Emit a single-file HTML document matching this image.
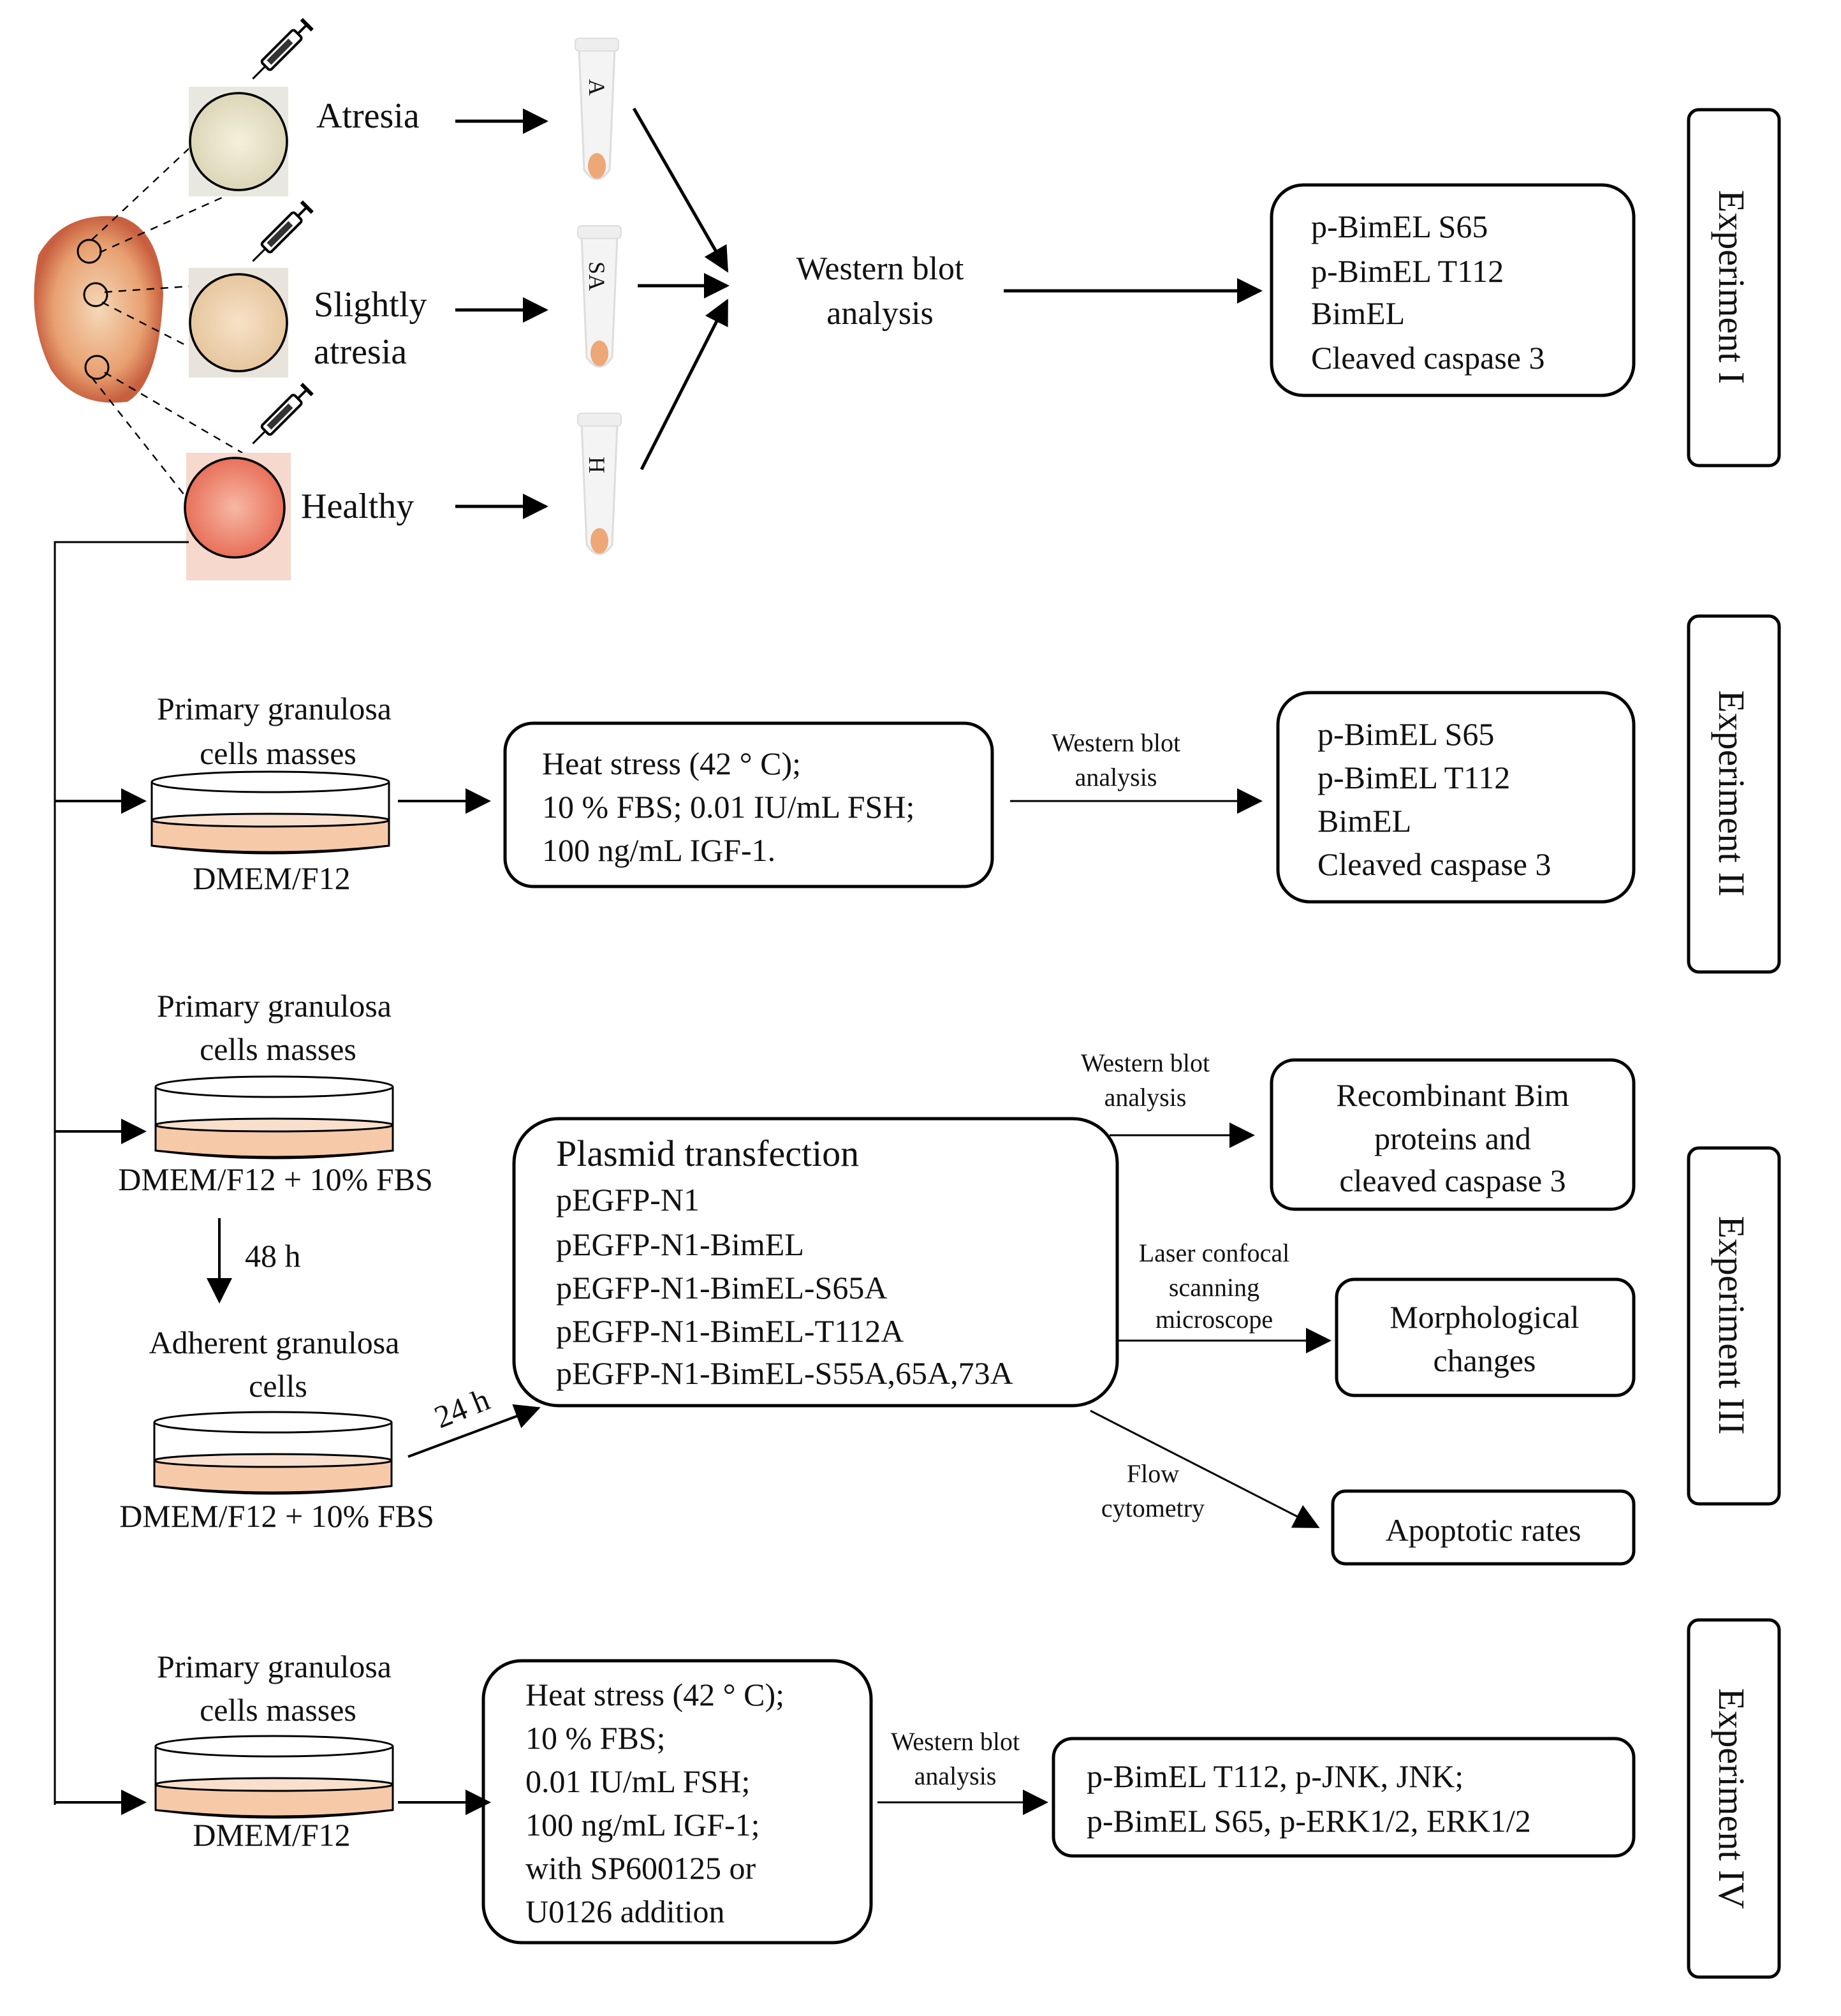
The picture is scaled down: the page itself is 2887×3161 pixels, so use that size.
<!DOCTYPE html>
<html><head><meta charset="utf-8"><style>
html,body{margin:0;padding:0;background:#fff;}
svg{display:block;}
text{font-family:"Liberation Serif",serif;fill:#111;}
</style></head><body>
<svg width="2887" height="3161" viewBox="0 0 1443.5 1580.5" xmlns="http://www.w3.org/2000/svg">
<defs>
<marker id="ah" viewBox="0 0 10 10" refX="9" refY="5" markerWidth="9" markerHeight="9" markerUnits="userSpaceOnUse" orient="auto"><path d="M0,0 L10,5 L0,10 z" fill="#000"/></marker>
<marker id="ahb" viewBox="0 0 10 10" refX="9" refY="5" markerWidth="20" markerHeight="20" markerUnits="userSpaceOnUse" orient="auto"><path d="M0,0 L10,5 L0,10 z" fill="#000"/></marker>
<radialGradient id="g1"><stop offset="0" stop-color="#f4f0dc"/><stop offset="1" stop-color="#dcd6b8"/></radialGradient>
<radialGradient id="g2"><stop offset="0" stop-color="#f7e2c8"/><stop offset="1" stop-color="#e6c69e"/></radialGradient>
<radialGradient id="g3"><stop offset="0" stop-color="#f7b8a4"/><stop offset="1" stop-color="#e8705a"/></radialGradient>
<radialGradient id="ov"><stop offset="0" stop-color="#f5d8b8"/><stop offset="0.7" stop-color="#e8a070"/><stop offset="1" stop-color="#c86040"/></radialGradient>
<g id="syr"><rect x="-5" y="-22" width="10" height="36" rx="2" fill="#fff" stroke="#000" stroke-width="2"/><rect x="-2.5" y="-14" width="5" height="24" fill="#333"/><line x1="0" y1="-22" x2="0" y2="-32" stroke="#000" stroke-width="2"/><line x1="-6" y1="-32" x2="6" y2="-32" stroke="#000" stroke-width="3"/><line x1="0" y1="14" x2="0" y2="28" stroke="#000" stroke-width="1.5"/></g>
<g id="tube"><path d="M-14,0 L14,0 L10,95 Q0,110 -10,95 Z" fill="#f4f4f4" stroke="#ddd" stroke-width="1.5"/><rect x="-17" y="-8" width="34" height="10" rx="3" fill="#eee" stroke="#ddd"/><ellipse cx="0" cy="92" rx="7" ry="10" fill="#eea777"/></g>
<g id="dish"><ellipse cx="0" cy="0" rx="93" ry="8" fill="#fff" stroke="#000" stroke-width="1.5"/><path d="M-93,0 V50 Q0,62 93,50 V0" fill="none" stroke="#000" stroke-width="1.5"/><path d="M-93,30 Q0,22 93,30 V50 Q0,60 -93,50 Z" fill="#f6c9a8" stroke="#000" stroke-width="1.5"/><ellipse cx="0" cy="30" rx="93" ry="5" fill="#f9e0cc" stroke="#000" stroke-width="1.5"/></g>
</defs>

<!-- ovary -->
<path d="M30,200 Q50,165 95,170 Q125,180 128,230 Q125,300 100,315 Q60,320 40,290 Q20,250 30,200Z" fill="url(#ov)"/>
<circle cx="70" cy="197" r="9" fill="none" stroke="#000" stroke-width="1.5"/>
<circle cx="75" cy="231" r="9" fill="none" stroke="#000" stroke-width="1.5"/>
<circle cx="76" cy="288" r="9" fill="none" stroke="#000" stroke-width="1.5"/>
<g stroke="#000" stroke-width="1.2" stroke-dasharray="6,5" fill="none">
<line x1="72" y1="188" x2="155" y2="110"/><line x1="78" y1="198" x2="185" y2="150"/>
<line x1="82" y1="229" x2="185" y2="222"/><line x1="80" y1="237" x2="160" y2="278"/>
<line x1="82" y1="292" x2="190" y2="355"/><line x1="72" y1="296" x2="150" y2="395"/>
</g>
<rect x="148" y="68" width="78" height="86" fill="#e8e8e0"/><circle cx="187" cy="111" r="38" fill="url(#g1)" stroke="#000" stroke-width="1.8"/>
<rect x="148" y="210" width="78" height="86" fill="#e8e4dc"/><circle cx="187" cy="253" r="38" fill="url(#g2)" stroke="#000" stroke-width="1.8"/>
<rect x="146" y="355" width="82" height="100" fill="#f6d8cc"/><circle cx="184" cy="398" r="39" fill="url(#g3)" stroke="#000" stroke-width="1.8"/>
<use href="#syr" transform="translate(218,42) rotate(45)"/>
<use href="#syr" transform="translate(218,185) rotate(45)"/>
<use href="#syr" transform="translate(218,328) rotate(45)"/>

<text x="248" y="100" font-size="28">Atresia</text>
<text x="246" y="248" font-size="28">Slightly</text>
<text x="246" y="285" font-size="28">atresia</text>
<text x="236" y="406" font-size="28">Healthy</text>
<g stroke="#000" stroke-width="2.5" fill="none" marker-end="url(#ahb)">
<line x1="357" y1="95" x2="428" y2="95"/><line x1="357" y1="243" x2="428" y2="243"/><line x1="357" y1="397" x2="428" y2="397"/>
<line x1="497" y1="85" x2="570" y2="212"/><line x1="500" y1="224" x2="570" y2="224"/><line x1="503" y1="368" x2="570" y2="236"/>
<line x1="787" y1="228" x2="988" y2="228"/>
</g>
<use href="#tube" transform="translate(468,38)"/><use href="#tube" transform="translate(470,185)"/><use href="#tube" transform="translate(470,332)"/>
<text font-size="18" transform="translate(462,62) rotate(90)">A</text>
<text font-size="18" transform="translate(462,205) rotate(90)">SA</text>
<text font-size="18" transform="translate(462,358) rotate(90)">H</text>
<text x="690" y="219" font-size="26" text-anchor="middle">Western blot</text>
<text x="690" y="254" font-size="26" text-anchor="middle">analysis</text>

<g fill="none" stroke="#000" stroke-width="2.5">
<rect x="997" y="145" width="284" height="165" rx="25"/>
<rect x="1324" y="86" width="71" height="279" rx="8"/>
<rect x="1324" y="483" width="71" height="279" rx="8"/>
<rect x="1324" y="900" width="71" height="279" rx="8"/>
<rect x="1324" y="1270" width="71" height="280" rx="8"/>
<rect x="396" y="567" width="382" height="128" rx="22"/>
<rect x="1002" y="543" width="279" height="164" rx="25"/>
<rect x="403" y="877" width="473" height="225" rx="35"/>
<rect x="997" y="831" width="284" height="117" rx="18"/>
<rect x="1048" y="1003" width="233" height="91" rx="14"/>
<rect x="1045" y="1169" width="236" height="57" rx="10"/>
<rect x="379" y="1302" width="304" height="221" rx="30"/>
<rect x="826" y="1363" width="455" height="92" rx="15"/>
</g>
<g font-size="25">
<text x="1028" y="186">p-BimEL S65</text><text x="1028" y="221">p-BimEL T112</text><text x="1028" y="254">BimEL</text><text x="1028" y="289">Cleaved  caspase 3</text>
</g>
<g font-size="29">
<text transform="translate(1348,225) rotate(90)" text-anchor="middle">Experiment I</text>
<text transform="translate(1348,622) rotate(90)" text-anchor="middle">Experiment II</text>
<text transform="translate(1348,1039) rotate(90)" text-anchor="middle">Experiment III</text>
<text transform="translate(1348,1410) rotate(90)" text-anchor="middle">Experiment IV</text>
</g>

<!-- left line -->
<polyline points="148,425 43,425 43,1415" fill="none" stroke="#000" stroke-width="1.5"/>
<g stroke="#000" stroke-width="2" fill="none" marker-end="url(#ahb)">
<line x1="43" y1="628" x2="113" y2="628"/><line x1="43" y1="887" x2="113" y2="887"/><line x1="43" y1="1413" x2="113" y2="1413"/>
<line x1="312" y1="628" x2="383" y2="628"/><line x1="312" y1="1413" x2="383" y2="1413"/>
<line x1="172" y1="955" x2="172" y2="1020"/>
<line x1="320" y1="1142" x2="422" y2="1104"/>
</g>
<g stroke="#000" stroke-width="1.5" fill="none" marker-end="url(#ahb)">
<line x1="792" y1="628" x2="988" y2="628"/><line x1="870" y1="890" x2="982" y2="890"/>
<line x1="876" y1="1051" x2="1042" y2="1051"/><line x1="855" y1="1106" x2="1033" y2="1197"/>
<line x1="688" y1="1413" x2="820" y2="1413"/>
</g>

<use href="#dish" transform="translate(212,613)"/><use href="#dish" transform="translate(215,852)"/>
<use href="#dish" transform="translate(214,1115)"/><use href="#dish" transform="translate(215,1369)"/>

<g font-size="25" text-anchor="middle">
<text x="215" y="564">Primary granulosa</text><text x="218" y="599">cells masses</text><text x="213" y="697">DMEM/F12</text>
<text x="215" y="797">Primary granulosa</text><text x="218" y="831">cells masses</text><text x="216" y="933">DMEM/F12 + 10% FBS</text>
<text x="215" y="1061">Adherent granulosa</text><text x="218" y="1095">cells</text><text x="217" y="1197">DMEM/F12 + 10% FBS</text>
<text x="215" y="1315">Primary granulosa</text><text x="218" y="1349">cells masses</text><text x="213" y="1447">DMEM/F12</text>
</g>
<text x="192" y="993" font-size="25">48 h</text>
<text font-size="25" transform="translate(345,1120) rotate(-22)">24 h</text>

<g font-size="25">
<text x="425" y="607">Heat stress (42 ° C);</text><text x="425" y="641">10 % FBS; 0.01 IU/mL FSH;</text><text x="425" y="675">100 ng/mL IGF-1.</text>
<text x="1033" y="584">p-BimEL S65</text><text x="1033" y="618">p-BimEL T112</text><text x="1033" y="652">BimEL</text><text x="1033" y="686">Cleaved  caspase 3</text>
<text x="436" y="914" font-size="29">Plasmid transfection</text>
<text x="436" y="949">pEGFP-N1</text><text x="436" y="984">pEGFP-N1-BimEL</text><text x="436" y="1018">pEGFP-N1-BimEL-S65A</text><text x="436" y="1052">pEGFP-N1-BimEL-T112A</text><text x="436" y="1085">pEGFP-N1-BimEL-S55A,65A,73A</text>
<text x="412" y="1337">Heat stress (42 ° C);</text><text x="412" y="1371">10 % FBS;</text><text x="412" y="1405">0.01 IU/mL FSH;</text><text x="412" y="1439">100 ng/mL IGF-1;</text><text x="412" y="1473">with SP600125 or</text><text x="412" y="1507">U0126 addition</text>
<text x="852" y="1401">p-BimEL T112, p-JNK, JNK;</text><text x="852" y="1436">p-BimEL S65, p-ERK1/2, ERK1/2</text>
</g>
<g font-size="25" text-anchor="middle">
<text x="1139" y="867">Recombinant Bim</text><text x="1139" y="901">proteins and</text><text x="1139" y="934">cleaved  caspase 3</text>
<text x="1164" y="1041">Morphological</text><text x="1164" y="1075">changes</text>
<text x="1163" y="1208">Apoptotic rates</text>
</g>
<g font-size="20" text-anchor="middle">
<text x="875" y="589">Western blot</text><text x="875" y="616">analysis</text>
<text x="898" y="840">Western blot</text><text x="898" y="867">analysis</text>
<text x="952" y="989">Laser confocal</text><text x="952" y="1016">scanning</text><text x="952" y="1041">microscope</text>
<text x="904" y="1162">Flow</text><text x="904" y="1189">cytometry</text>
<text x="749" y="1372">Western blot</text><text x="749" y="1399">analysis</text>
</g>
</svg>
</body></html>
